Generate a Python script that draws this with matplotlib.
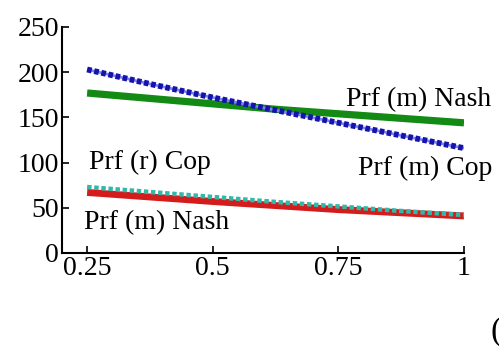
import numpy as np
from matplotlib import pyplot as plt

plt.rcParams['font.family'] = ['Liberation Serif', 'DejaVu Serif']

# x values and curves
x = [0.25, 0.375, 0.5, 0.625, 0.75, 0.875, 1.0]
prf_m_cop = [203, 187, 172, 158, 144, 130, 116]     # blue dotted
prf_m_nash = [177, 171, 165, 159, 154, 149, 144]    # green
prf_r_cop = [73, 67.5, 62, 56.5, 51.5, 46.5, 42]    # cyan dotted
prf_r_nash = [67, 62, 57, 52.5, 48, 44.5, 41]       # red

xticks = [0.25, 0.5, 0.75, 1]
xticklabels = ['0.25', '0.5', '0.75', '1']
yticks = [0, 50, 100, 150, 200, 250]

fig = plt.figure(figsize=(4.99, 3.47), dpi=100)
ax = fig.add_axes([62/499, 1-253/347, (464-62)/499, (253-27)/347])

ax.plot(x, prf_m_nash, color='#138a13', lw=5.2, solid_capstyle='butt')
ax.plot(x, prf_m_cop, color='#8080ff', lw=2.0, solid_capstyle='butt')
ax.plot(x, prf_m_cop, color='#1414a8', lw=4.2, linestyle=(0, (0.8, 0.45)), dash_capstyle='butt')
ax.plot(x, prf_r_nash, color='#d41c1c', lw=5.0, solid_capstyle='butt')
ax.plot(x, prf_r_cop, color='#30b8a8', lw=3.2, linestyle=(0, (1, 0.6)), dash_capstyle='butt')

ax.set_xlim(0.2, 1.0)
ax.set_ylim(0, 250)
ax.set_xticks(xticks)
ax.set_xticklabels(xticklabels)
ax.set_yticks(yticks)
ax.tick_params(labelsize=20, direction='in', length=5, width=1.2, pad=2)
for s in ['top', 'right']:
    ax.spines[s].set_visible(False)
for s in ['left', 'bottom']:
    ax.spines[s].set_linewidth(1.5)

fs = 20
ax.text(0.766, 170, 'Prf (m) Nash', fontsize=fs, va='center', clip_on=False)
ax.text(0.79, 94, 'Prf (m) Cop', fontsize=fs, va='center', clip_on=False)
ax.text(0.254, 100, 'Prf (r) Cop', fontsize=fs, va='center', clip_on=False)
ax.text(0.244, 34, 'Prf (m) Nash', fontsize=fs, va='center', clip_on=False)

# panel label, cut off at the right edge as in the source
fig.text(0.982, 0.045, '(c)', fontsize=24, va='center', ha='left')

fig.savefig('out.png', dpi=100)
